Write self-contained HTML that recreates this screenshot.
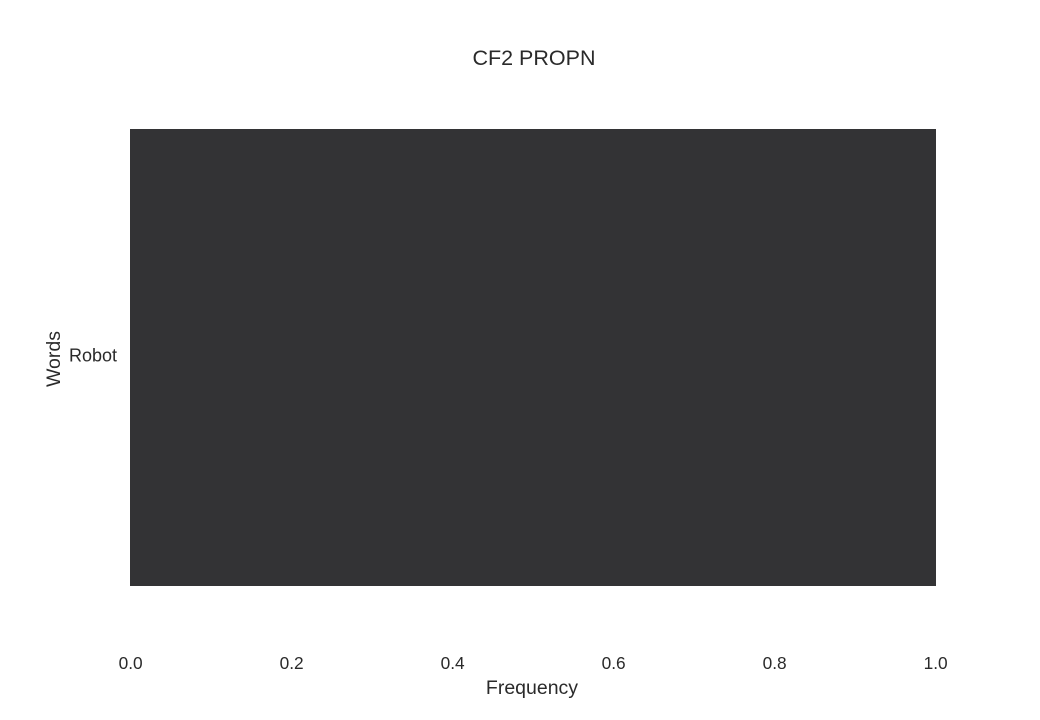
<!DOCTYPE html>
<html><head><meta charset="utf-8"><style>
body{margin:0;background:#fff;}
svg text{font-family:"Liberation Sans",sans-serif;fill:#2a2a2a;}
</style></head><body>
<svg id="chart" width="1040" height="715" xmlns="http://www.w3.org/2000/svg">
<text x="534" y="65" font-size="21.5" text-anchor="middle">CF2 PROPN</text>
<text transform="translate(60,359) rotate(-90)" font-size="19.5" text-anchor="middle">Words</text>
<text x="532" y="694" font-size="19.5" text-anchor="middle">Frequency</text>
<g id="bars"></g><g id="xticks"></g><g id="yticks"></g>
</svg>
<script>
const categories = ["Robot"];
const values = [1.0];
const xTicks = [0, 0.2, 0.4, 0.6, 0.8, 1.0];
const xTickLabels = ["0.0","0.2","0.4","0.6","0.8","1.0"];
const NS="http://www.w3.org/2000/svg";
const x0=130,x1=935,yTop=129,yBot=586;
function xs(v){return x0+(x1-x0)*v;}
const band=(yBot-yTop)/categories.length;
function ys(i){return yTop+band*i;}
const bars=document.getElementById('bars');
categories.forEach((c,i)=>{
 const r=document.createElementNS(NS,'rect');
 
 
 r.setAttribute('x',xs(0));r.setAttribute('y',ys(i));
 r.setAttribute('width',xs(values[i])-xs(0)+1);r.setAttribute('height',band);
 r.setAttribute('fill','#333335');
 bars.appendChild(r);
 const t=document.createElementNS(NS,'text');
 
 
 t.setAttribute('x',117);t.setAttribute('y',ys(i)+band/2+4);
 t.setAttribute('font-size','18');t.setAttribute('text-anchor','end');
 t.textContent=c;
 document.getElementById('yticks').appendChild(t);
});
xTicks.forEach((v,i)=>{
 const t=document.createElementNS(NS,'text');
 
 
 t.setAttribute('x',xs(v)+0.6);t.setAttribute('y',669);
 t.setAttribute('font-size','17.3');t.setAttribute('text-anchor','middle');
 t.textContent=xTickLabels[i];
 document.getElementById('xticks').appendChild(t);
});
</script>
</body></html>
